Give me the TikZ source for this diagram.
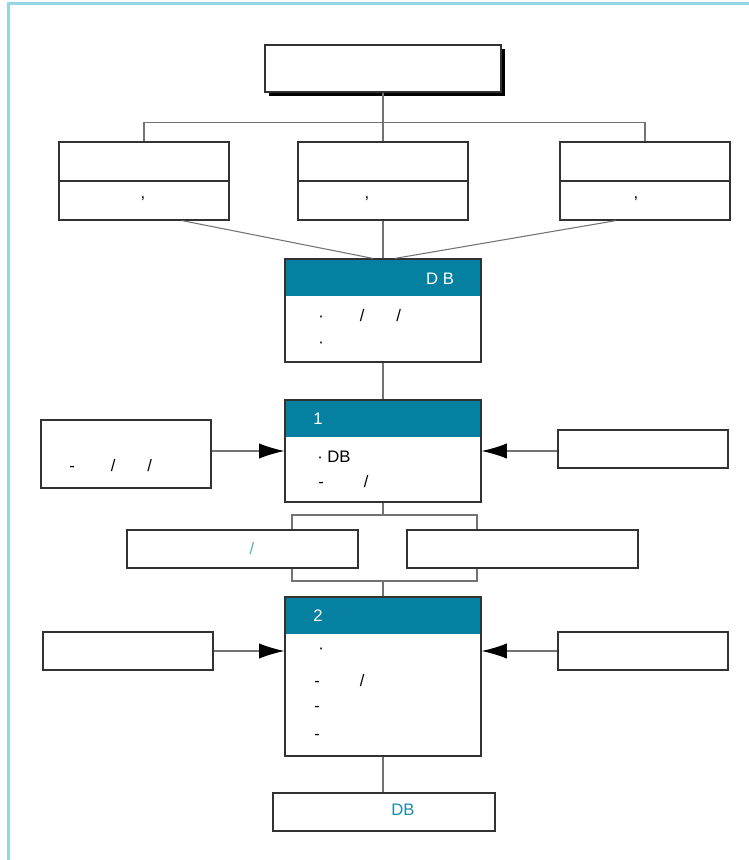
\documentclass[tikz,border=0pt]{standalone}
\usepackage{fontspec}
\setmainfont{Liberation Sans}
\usetikzlibrary{positioning,arrows.meta,shadows}
\definecolor{hdteal}{RGB}{5,128,160}
\definecolor{rimblue}{RGB}{150,214,228}
\definecolor{lineg}{RGB}{115,115,115}
\definecolor{boxg}{RGB}{50,50,50}
\definecolor{lightteal}{RGB}{80,170,198}
\definecolor{dbteal}{RGB}{25,140,172}
\tikzset{
  box/.style={draw=boxg, rectangle, fill=white, line width=0.9pt, inner sep=0pt},
  stagebox/.style={box, minimum width=147pt, path picture={\fill[hdteal] (path picture bounding box.north west) rectangle ([yshift=-27.75pt]path picture bounding box.north east);}},
  conn/.style={draw=lineg, line width=0.8pt},
  feed/.style={conn, -{Latex[length=19pt,width=11.5pt,color=black]}},
  txt/.style={inner sep=0pt, anchor=west, font=\fontsize{12.5pt}{15pt}\selectfont},
}
\begin{document}
\begin{tikzpicture}[x=0.75pt,y=-0.75pt]
\useasboundingbox (0,0) rectangle (749,860);
\draw [rimblue, line width=2pt] (8.5,860) -- (8.5,3.5) -- (749,3.5);

% top and three sources
\node [box, minimum width=177pt, minimum height=35.25pt, drop shadow={shadow xshift=3pt, shadow yshift=-3pt, fill=black, opacity=1}] (top) at (383,68.5) {};
\node [box, minimum width=127.5pt, minimum height=58.5pt] (srcA) at (144,181) {};
\node [box, minimum width=127.5pt, minimum height=58.5pt] (srcB) at (383,181) {};
\node [box, minimum width=127.5pt, minimum height=58.5pt] (srcC) at (645,181) {};
\foreach \s in {srcA,srcB,srcC}
  \draw [draw=boxg, line width=0.9pt] (\s.west) -- (\s.east);
\node [txt, anchor=center] (comA) at (143,199) {,};
\node [txt, anchor=center] (comB) at (367,199) {,};
\node [txt, anchor=center] (comC) at (636,199) {,};

\draw [conn] (top.south) -- ++(0,30) coordinate (bus);
\draw [conn] (srcA.north) |- (bus) -| (srcC.north);
\draw [conn] (bus) -- (srcB.north);

% DB stage
\node [stagebox, minimum height=77.25pt] (db) at (383,310.5) {};
\node [txt, anchor=center, white] (dbT) at (440,279) {D B};
\node [txt] (dbL1) at (318,316) {·\hspace{27pt}/\hspace{24pt}/};
\node [txt] (dbL2) at (318,345) {·};

\draw [conn] ([xshift=28.5pt]srcA.south) -- ([xshift=-7.5pt]db.north);
\draw [conn] (srcB.south) -- (db.north);
\draw [conn] ([xshift=-21.75pt]srcC.south) -- ([xshift=9pt]db.north);

% stage 1
\node [stagebox, minimum height=76.5pt] (st1) at (383,451) {};
\node [txt, white] (st1T) at (313,419) {1};
\node [txt] (st1L1) at (317,457) {· DB};
\node [txt] (st1L2) at (318,482) {-\hspace{30pt}/};
\draw [conn] (db.south) -- (st1.north);

\node [box, minimum width=127.5pt, minimum height=51pt] (in1) at (126,454) {};
\node [txt] (in1L) at (69,466) {-\hspace{27pt}/\hspace{24pt}/};
\node [box, minimum width=127.5pt, minimum height=28.5pt] (ex1) at (643,449) {};
\draw [feed] (in1.east |- st1) -- (st1.west);
\draw [feed] (ex1.west |- st1) -- (st1.east);

% split between the stages
\coordinate (brTL) at (292,515);
\coordinate (brBR) at (477,581);
\draw [conn] (brTL) rectangle (brBR);
\draw [conn] (st1.south) -- (st1.south |- brTL);
\node [box, minimum width=173.25pt, minimum height=28.5pt] (midA) at (242.5,549) {};
\node [box, minimum width=173.25pt, minimum height=28.5pt] (midB) at (522.5,549) {};
\node [txt, anchor=center, lightteal] (midAL) at (252,549) {/};

% stage 2
\node [stagebox, minimum height=119.25pt] (st2) at (383,676.5) {};
\node [txt, white] (st2T) at (313,616) {2};
\node [txt] (st2L1) at (318,651) {·};
\node [txt] (st2L2) at (314,681) {-\hspace{30pt}/};
\node [txt] (st2L3) at (314,709) {-};
\node [txt] (st2L4) at (314,737) {-};
\draw [conn] (st2.north |- brBR) -- (st2.north);

\node [box, minimum width=127.5pt, minimum height=28.5pt] (in2) at (128,651) {};
\node [box, minimum width=127.5pt, minimum height=28.5pt] (ex2) at (643,651) {};
\draw [feed] (in2.east) -- (in2.east -| st2.west);
\draw [feed] (ex2.west) -- (ex2.west -| st2.east);

% result
\node [box, minimum width=166.5pt, minimum height=28.5pt] (out) at (384,812) {};
\node [txt, anchor=center, dbteal] (outL) at (403,810) {DB};
\draw [conn] (st2.south) -- (st2.south |- out.north);

\end{tikzpicture}
\end{document}
